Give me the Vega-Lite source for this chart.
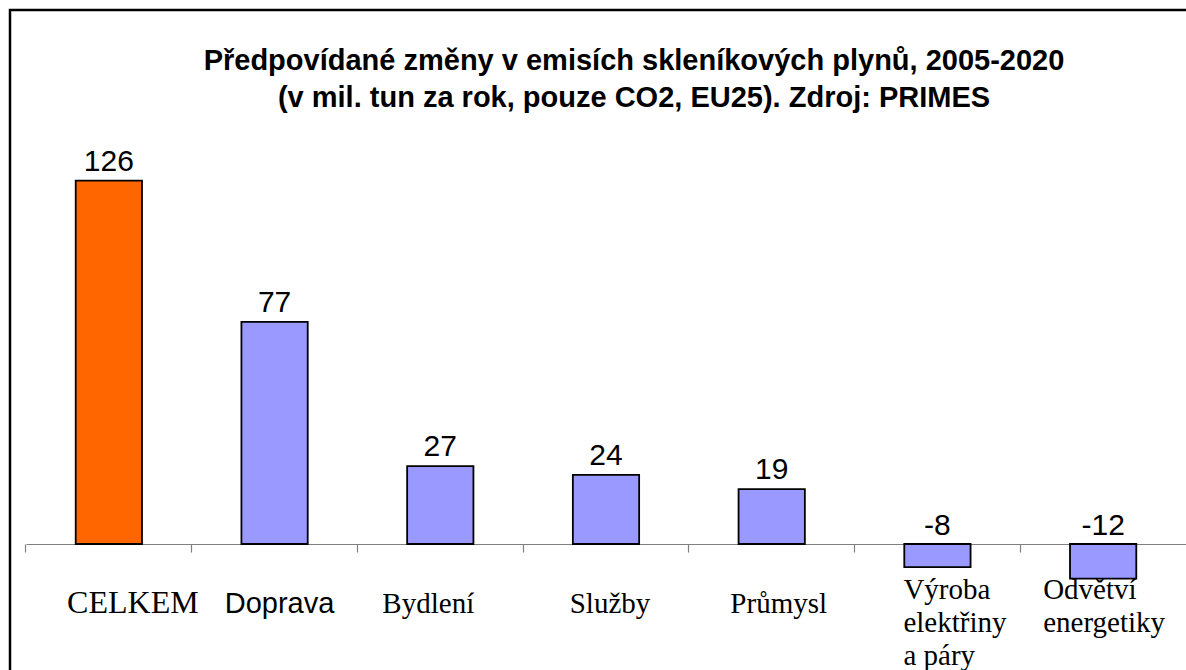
{
  "$schema": "https://vega.github.io/schema/vega-lite/v6.json",
  "width": 1186,
  "height": 670,
  "autosize": {"type": "none"},
  "padding": {"left": 10, "top": 10, "right": -10, "bottom": -10},
  "background": "white",
  "config": {"view": {"stroke": "black", "strokeWidth": 2.5}, "font": "Liberation Sans"},
  "title": {
    "text": ["Předpovídané změny v emisích skleníkových plynů, 2005-2020", "(v mil. tun za rok, pouze CO2, EU25). Zdroj: PRIMES"],
    "font": "Liberation Sans",
    "fontSize": 29,
    "fontWeight": "bold",
    "color": "black",
    "anchor": "middle",
    "baseline": "alphabetic",
    "offset": 0,
    "dy": 126,
    "dx": 31,
    "lineHeight": 37
  },
  "data": {
    "values": [
      {"kategorie": "CELKEM", "hodnota": 126},
      {"kategorie": "Doprava", "hodnota": 77},
      {"kategorie": "Bydlení", "hodnota": 27},
      {"kategorie": "Služby", "hodnota": 24},
      {"kategorie": "Průmysl", "hodnota": 19},
      {"kategorie": "Výroba elektřiny a páry", "hodnota": -8},
      {"kategorie": "Odvětví energetiky", "hodnota": -12}
    ]
  },
  "encoding": {
    "x": {
      "field": "kategorie",
      "type": "nominal",
      "sort": null,
      "scale": {"range": [16, 1176], "paddingInner": 0.6, "paddingOuter": 0.3},
      "axis": {
        "title": null,
        "orient": "bottom",
        "offset": -136,
        "grid": false,
        "domainColor": "#808080",
        "domainWidth": 1.2,
        "tickColor": "#808080",
        "tickWidth": 1.2,
        "tickSize": 8,
        "bandPosition": -0.75,
        "labelAngle": 0,
        "labelColor": "black",
        "labelLimit": 0,
        "labelOverlap": false,
        "labelBound": false,
        "labelFlush": false,
        "labelBaseline": "alphabetic",
        "labelLineHeight": 33,
        "labelExpr": "datum.value === 'Výroba elektřiny a páry' ? ['Výroba', 'elektřiny', 'a páry'] : datum.value === 'Odvětví energetiky' ? ['Odvětví', 'energetiky'] : datum.value",
        "labelFont": {"condition": {"test": "datum.value === 'Doprava'", "value": "Liberation Sans"}, "value": "Liberation Serif"},
        "labelFontSize": {"condition": {"test": "datum.value === 'CELKEM'", "value": 32}, "value": 29},
        "labelPadding": {"condition": {"test": "datum.value === 'Výroba elektřiny a páry' || datum.value === 'Odvětví energetiky'", "value": 46}, "value": 60},
        "labelAlign": {"condition": {"test": "datum.value === 'Výroba elektřiny a páry' || datum.value === 'Odvětví energetiky'", "value": "left"}, "value": "center"},
        "labelOffset": {
          "condition": [
            {"test": "datum.value === 'CELKEM'", "value": 24},
            {"test": "datum.value === 'Doprava'", "value": 5},
            {"test": "datum.value === 'Bydlení'", "value": -12},
            {"test": "datum.value === 'Služby'", "value": 4},
            {"test": "datum.value === 'Průmysl'", "value": 7},
            {"test": "datum.value === 'Výroba elektřiny a páry'", "value": -34},
            {"test": "datum.value === 'Odvětví energetiky'", "value": -60}
          ],
          "value": 0
        }
      }
    }
  },
  "layer": [
    {
      "mark": {"type": "bar", "stroke": "black", "strokeWidth": 1.8},
      "encoding": {
        "y": {
          "field": "hodnota",
          "type": "quantitative",
          "scale": {"domain": [-47.16, 185.16], "nice": false, "zero": false},
          "axis": null
        },
        "color": {"condition": {"test": "datum.kategorie === 'CELKEM'", "value": "#FF6600"}, "value": "#9999FF"}
      }
    },
    {
      "transform": [{"filter": "datum.hodnota >= 0"}],
      "mark": {"type": "text", "baseline": "alphabetic", "dy": -10, "fontSize": 30, "font": "Liberation Sans", "color": "black"},
      "encoding": {
        "y": {"field": "hodnota", "type": "quantitative"},
        "text": {"field": "hodnota", "type": "nominal"}
      }
    },
    {
      "transform": [{"filter": "datum.hodnota < 0"}],
      "mark": {"type": "text", "baseline": "alphabetic", "dy": -9, "fontSize": 30, "font": "Liberation Sans", "color": "black"},
      "encoding": {
        "y": {"datum": 0, "type": "quantitative"},
        "text": {"field": "hodnota", "type": "nominal"}
      }
    }
  ]
}
